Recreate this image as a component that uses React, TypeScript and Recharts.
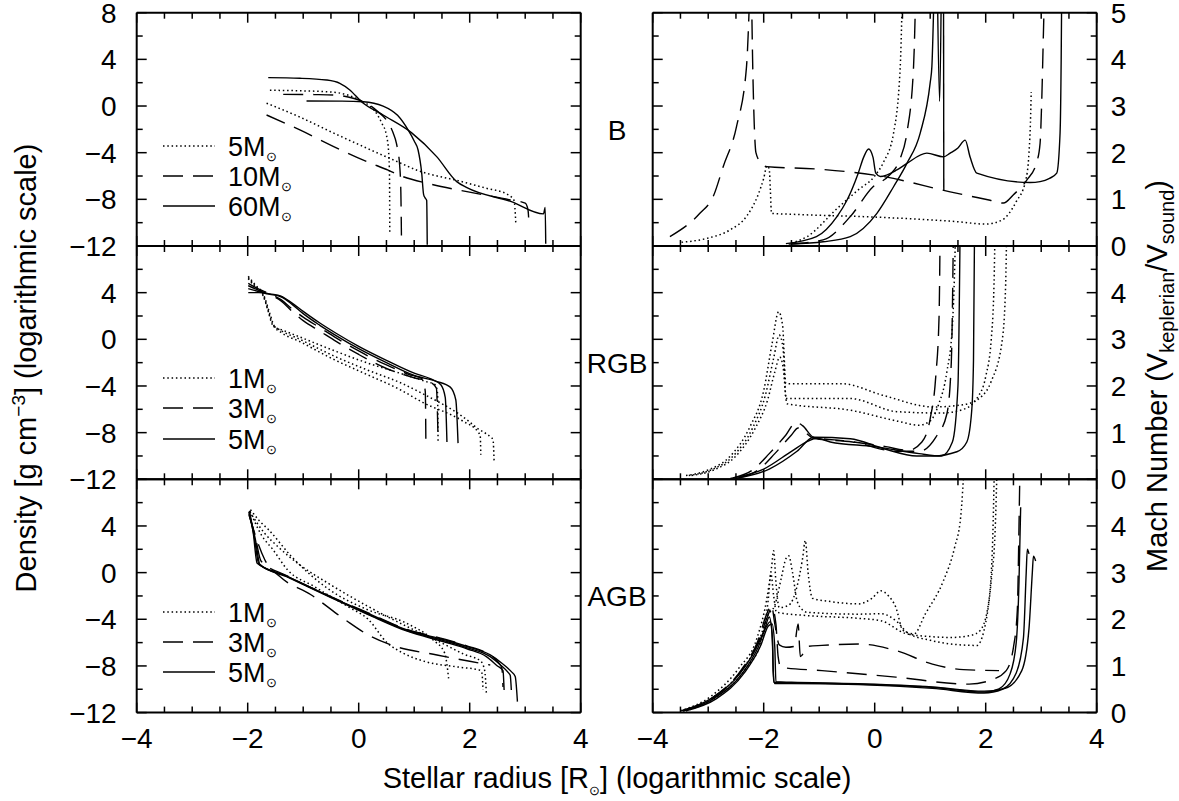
import React from 'react';
import { LineChart, Line, XAxis, YAxis } from 'recharts';

type P = [number, number][];

// ---------------- B (main sequence / supergiant) : density ----------------
const bDenDot5MS: P = [[-1.6,1.35],[-1.0,1.3],[-0.5,1.2],[-0.2,0.95],[0.02,0.5],[0.2,0.0],[0.32,-0.62],[0.42,-1.5],[0.5,-2.5],[0.54,-4.0],[0.555,-6.0],[0.56,-10.8]];
const bDenDash10MS: P = [[-1.36,1.0],[-0.8,0.98],[-0.46,0.95],[-0.1,0.67],[0.14,0.24],[0.35,-0.5],[0.5,-1.2],[0.62,-2.3],[0.68,-3.2],[0.74,-5.2],[0.76,-7.5],[0.77,-11.1]];
const bDenSol60MS: P = [[-0.94,0.43],[-0.3,0.42],[0.08,0.37],[0.44,0.0],[0.7,-0.8],[0.89,-2.05],[1.0,-3.0],[1.07,-3.77],[1.135,-5.74],[1.17,-7.6],[1.2,-7.9],[1.225,-8.1],[1.235,-11.9]];
const bDenSol60SG: P = [[-1.63,2.43],[-1.06,2.38],[-0.58,2.23],[-0.34,1.95],[-0.16,1.38],[0.05,0.37],[0.44,-0.77],[0.955,-2.3],[1.405,-4.34],[1.766,-6.48],[1.95,-7.0],[2.75,-8.2],[3.33,-9.25],[3.36,-8.7],[3.37,-11.8]];
const bDenDot5SG: P = [[-1.66,0.24],[-1.06,-0.95],[-0.46,-2.3],[0.14,-3.6],[0.71,-4.8],[1.05,-5.5],[1.83,-6.45],[2.3,-7.05],[2.67,-7.55],[2.8,-8.1],[2.83,-10.0]];
const bDenDash10SG: P = [[-1.66,-0.77],[-1.06,-2.05],[-0.46,-3.45],[0.14,-4.75],[0.53,-5.5],[0.74,-5.95],[1.3,-6.7],[1.95,-7.34],[2.73,-8.05],[3.0,-8.33],[3.05,-8.9],[3.07,-10.3]];

// ---------------- B : Mach number ----------------
const bMachDashSGa: P = [[-3.69,0.2],[-3.15,0.7],[-2.91,1.06],[-2.73,1.7],[-2.49,2.56],[-2.31,3.84],[-2.25,5.5]];
const bMachDashSGb: P = [[-2.22,5.5],[-2.2,4.0],[-2.17,2.6],[-2.14,2.0],[-2.05,1.78],[-1.95,1.7],[-1.05,1.65],[0.15,1.49],[1.36,1.16],[2.08,0.98],[2.32,0.92],[2.5,1.1],[2.74,1.41],[2.92,1.8],[2.98,2.2],[3.01,3.13],[3.04,4.56],[3.06,5.5]];
const bMachDotSG: P = [[-3.48,0.08],[-3.0,0.17],[-2.6,0.35],[-2.3,0.65],[-2.1,1.1],[-2.0,1.45],[-1.94,1.72],[-1.9,1.65],[-1.88,1.2],[-1.86,0.7],[-1.5,0.68],[0.0,0.62],[1.5,0.52],[2.0,0.47],[2.3,0.56],[2.55,0.95],[2.72,1.4],[2.78,2.0],[2.81,2.8],[2.82,3.3]];
const bMachDotMS: P = [[-1.5,0.06],[-1.22,0.2],[-0.68,0.8],[-0.3,1.2],[0.0,1.5],[0.16,1.8],[0.34,2.42],[0.46,3.84],[0.5,5.5]];
const bMachDashMS: P = [[-1.55,0.04],[-0.93,0.13],[-0.44,0.63],[-0.03,1.27],[0.25,1.5],[0.45,1.85],[0.58,2.42],[0.7,3.84],[0.74,5.5]];
const bMachSolMS: P = [[-1.5,0.04],[-0.93,0.09],[-0.44,0.2],[0.04,0.7],[0.34,1.27],[0.58,1.77],[0.82,2.42],[1.0,3.5],[1.03,3.84],[1.07,5.5]];
const bMachSolSpike: P = [[1.13,5.5],[1.17,3.1],[1.2,5.5]];
const bMachSolVert: P = [[1.24,5.5],[1.245,1.2]];
const bMachSolSG: P = [[-1.6,0.05],[-1.05,0.2],[-0.68,0.63],[-0.5,0.98],[-0.3,1.55],[-0.2,1.9],[-0.11,2.08],[-0.03,1.9],[0.02,1.56],[0.1,1.49],[0.4,1.63],[0.58,1.77],[0.94,1.99],[1.24,1.91],[1.36,1.99],[1.5,2.1],[1.63,2.27],[1.72,1.9],[1.84,1.56],[2.8,1.36],[2.98,1.38],[3.15,1.45],[3.28,1.56],[3.34,2.42],[3.36,4.0],[3.37,5.5]];

// ---------------- RGB : density ----------------
const rDenDot1: P = [[-1.99,5.4],[-1.85,4.6],[-1.72,3.9],[-1.6,2.2],[-1.51,1.06],[-1.36,0.77],[-1.06,0.2],[-0.46,-0.94],[0.14,-2.0],[0.74,-2.9],[1.2,-3.6],[1.38,-3.9],[1.42,-4.6],[1.43,-8.7]];
const rDenDot2: P = [[-1.99,5.3],[-1.85,4.5],[-1.72,3.8],[-1.62,2.3],[-1.54,1.2],[-1.4,0.6],[-1.06,-0.2],[-0.46,-1.7],[0.14,-3.0],[0.74,-4.3],[1.15,-5.4],[1.87,-7.0],[2.16,-8.0],[2.19,-8.3],[2.2,-9.9]];
const rDenDot3: P = [[-1.99,5.2],[-1.85,4.4],[-1.72,3.7],[-1.63,2.4],[-1.56,1.3],[-1.45,0.9],[-1.06,0.0],[-0.46,-1.4],[0.14,-2.6],[0.74,-3.7],[1.15,-4.65],[1.95,-6.9],[2.13,-7.6],[2.38,-8.4],[2.42,-8.6],[2.44,-10.5]];
const rDenSol1: P = [[-1.99,4.35],[-1.8,4.1],[-1.6,3.9],[-1.4,3.7],[-1.2,3.1],[-1.0,2.4],[-0.7,1.4],[-0.4,0.5],[0.0,-0.6],[0.5,-1.8],[1.0,-2.9],[1.3,-3.4],[1.48,-3.9],[1.56,-5.0],[1.59,-8.8]];
const rDenSol2: P = [[-1.99,4.0],[-1.8,4.0],[-1.6,3.85],[-1.4,3.65],[-1.2,3.0],[-1.0,2.2],[-0.7,1.2],[-0.4,0.3],[0.0,-0.8],[0.5,-2.0],[1.0,-3.1],[1.4,-3.6],[1.65,-4.1],[1.75,-5.2],[1.79,-8.9]];
const rDenDash1: P = [[-1.99,4.8],[-1.8,4.3],[-1.6,3.9],[-1.4,3.4],[-1.2,2.6],[-1.0,1.9],[-0.7,1.0],[-0.4,0.1],[0.0,-1.0],[0.5,-2.2],[0.9,-3.0],[1.15,-3.4],[1.2,-4.5],[1.21,-8.65]];
const rDenDash2: P = [[-1.99,4.6],[-1.8,4.2],[-1.6,3.8],[-1.4,3.3],[-1.2,2.4],[-1.0,1.6],[-0.7,0.7],[-0.4,-0.2],[0.0,-1.3],[0.5,-2.5],[1.0,-3.3],[1.3,-3.7],[1.4,-4.2],[1.43,-8.65]];

// ---------------- RGB : Mach number ----------------
const rMachDot1: P = [[-3.4,0.08],[-3.0,0.2],[-2.6,0.5],[-2.25,1.12],[-2.0,1.9],[-1.85,2.9],[-1.73,3.59],[-1.66,3.3],[-1.6,2.05],[-1.0,2.05],[-0.6,2.05],[0.15,1.8],[1.06,1.55],[1.6,1.6],[1.9,1.75],[2.1,2.1],[2.3,3.0],[2.36,4.2],[2.38,5.5]];
const rMachDot2: P = [[-3.35,0.08],[-2.95,0.2],[-2.55,0.5],[-2.2,1.1],[-1.97,1.8],[-1.82,2.6],[-1.72,3.09],[-1.65,2.8],[-1.6,1.73],[-0.44,1.73],[0.4,1.45],[1.2,1.42],[1.6,1.5],[1.85,1.75],[2.0,2.2],[2.1,3.0],[2.15,4.2],[2.17,5.5]];
const rMachDot3: P = [[-3.3,0.08],[-2.9,0.2],[-2.5,0.5],[-2.15,1.1],[-1.93,1.7],[-1.8,2.3],[-1.71,2.62],[-1.65,2.4],[-1.58,1.62],[-0.44,1.48],[0.4,1.25],[0.8,1.16],[1.0,1.25],[1.15,1.6],[1.3,2.3],[1.4,3.3],[1.44,4.5],[1.46,5.5]];
const rMachDash1: P = [[-2.55,0.03],[-2.2,0.2],[-1.9,0.55],[-1.6,0.95],[-1.42,1.22],[-1.3,1.15],[-1.1,0.9],[-0.5,0.82],[0.2,0.7],[0.6,0.62],[0.85,0.8],[1.0,1.3],[1.1,2.2],[1.16,3.5],[1.18,5.5]];
const rMachDash2: P = [[-2.45,0.03],[-2.1,0.2],[-1.8,0.55],[-1.5,0.95],[-1.38,1.1],[-1.1,0.88],[-0.4,0.8],[0.4,0.6],[0.8,0.6],[1.1,0.9],[1.3,1.4],[1.38,2.5],[1.42,5.5]];
const rMachSol1: P = [[-2.6,0.02],[-2.0,0.22],[-1.5,0.6],[-1.2,0.82],[-1.05,0.88],[-0.8,0.8],[0.0,0.7],[0.8,0.55],[1.2,0.5],[1.4,0.8],[1.5,2.0],[1.54,5.5]];
const rMachSol2: P = [[-2.5,0.02],[-1.9,0.22],[-1.4,0.6],[-1.1,0.9],[-0.44,0.87],[0.15,0.66],[0.76,0.5],[1.06,0.5],[1.48,0.59],[1.66,0.8],[1.75,1.5],[1.78,2.55],[1.8,5.5]];

// ---------------- AGB : density ----------------
const aDenSol1: P = [[-1.97,5.3],[-1.9,3.4],[-1.83,0.8],[-1.35,-0.2],[-0.52,-2.06],[0.17,-3.49],[0.86,-4.9],[1.55,-5.77],[1.96,-6.34],[2.37,-7.06],[2.58,-7.77],[2.75,-8.49],[2.82,-8.9],[2.86,-11.06]];
const aDenSol2: P = [[-1.98,5.2],[-1.88,3.0],[-1.8,0.75],[-1.3,-0.3],[-0.5,-2.1],[0.17,-3.55],[0.86,-4.95],[1.55,-5.85],[1.96,-6.45],[2.37,-7.2],[2.55,-7.9],[2.7,-8.6],[2.73,-8.8],[2.75,-10.06]];
const aDenSol3: P = [[-1.97,5.1],[-1.86,2.8],[-1.78,0.7],[-1.3,-0.35],[-0.5,-2.15],[0.17,-3.6],[0.86,-5.0],[1.55,-5.95],[1.96,-6.55],[2.3,-7.2],[2.5,-8.0],[2.6,-8.4],[2.62,-10.06]];
const aDenDash1: P = [[-1.97,4.9],[-1.85,3.0],[-1.69,1.08],[-1.42,-0.34],[-0.86,-1.9],[-0.24,-4.06],[0.17,-5.34],[0.58,-6.2],[1.41,-7.06],[2.0,-7.6],[2.37,-7.92]];
const aDenDash2: P = [[-1.98,5.0],[-1.86,3.0],[-1.76,1.0],[-1.3,-0.25],[-0.5,-2.05],[0.17,-3.45],[0.86,-4.85],[1.55,-5.7],[1.96,-6.3],[2.3,-6.9],[2.5,-7.6],[2.58,-8.2],[2.6,-9.8]];
const aDenDot1: P = [[-1.95,5.4],[-1.8,4.5],[-1.62,3.66],[-1.21,1.37],[-0.52,-1.49],[0.17,-3.2],[0.86,-4.34],[1.34,-5.77],[1.55,-6.9],[1.62,-9.06]];
const aDenDot2: P = [[-1.96,5.3],[-1.75,3.2],[-1.55,2.0],[-1.28,0.23],[-0.8,-1.2],[-0.2,-2.9],[0.17,-4.0],[0.51,-6.0],[0.8,-6.9],[1.2,-7.63],[1.8,-8.1],[2.17,-8.34],[2.22,-8.6],[2.24,-10.06]];
const aDenDot3: P = [[-1.96,5.2],[-1.7,3.4],[-1.45,2.2],[-1.1,0.8],[-0.52,-1.0],[0.17,-2.9],[0.86,-4.6],[1.4,-5.8],[1.9,-7.0],[2.2,-7.6],[2.27,-8.4],[2.3,-10.3]];

// ---------------- AGB : Mach number ----------------
const aMachDotA: P = [[-3.5,0.04],[-2.95,0.35],[-2.45,0.95],[-2.12,1.6],[-1.95,2.4],[-1.86,3.1],[-1.82,3.47],[-1.78,2.8],[-1.72,2.25],[-1.55,2.3],[-1.4,2.7],[-1.3,3.3],[-1.25,3.69],[-1.2,3.0],[-1.12,2.45],[-0.8,2.38],[-0.29,2.33],[-0.05,2.45],[0.11,2.61],[0.25,2.5],[0.38,2.26],[0.51,1.76],[0.71,1.69],[0.91,2.11],[1.24,2.83],[1.44,3.54],[1.55,4.2],[1.62,5.5]];
const aMachDotB: P = [[-3.45,0.04],[-2.9,0.33],[-2.4,0.9],[-2.08,1.55],[-1.92,2.1],[-1.8,2.3],[-1.68,2.9],[-1.6,3.3],[-1.55,3.36],[-1.48,3.0],[-1.4,2.4],[-1.3,2.2],[-1.22,2.15],[-0.29,2.11],[0.11,2.12],[0.4,1.95],[0.6,1.7],[1.0,1.55],[1.37,1.47],[1.84,1.44],[1.97,1.76],[2.1,2.83],[2.17,3.9],[2.21,5.5]];
const aMachDotC: P = [[-3.4,0.04],[-2.85,0.33],[-2.35,0.9],[-2.02,1.6],[-1.92,2.4],[-1.87,2.97],[-1.82,2.5],[-1.77,2.15],[-1.22,2.08],[-0.29,2.02],[0.11,1.97],[0.57,1.69],[1.0,1.63],[1.37,1.61],[1.75,1.66],[1.9,1.76],[2.04,2.26],[2.12,3.5],[2.16,5.5]];
const aMachSolA: P = [[-3.48,0.04],[-2.95,0.3],[-2.42,0.85],[-2.15,1.35],[-1.98,1.8],[-1.9,2.05],[-1.85,1.7],[-1.83,1.0],[-1.82,0.65],[-1.5,0.64],[-0.29,0.61],[1.04,0.54],[1.97,0.44],[2.24,0.51],[2.44,0.83],[2.55,1.5],[2.6,2.8],[2.63,4.4]];
const aMachSolB: P = [[-3.45,0.04],[-2.9,0.3],[-2.38,0.85],[-2.1,1.4],[-1.95,1.85],[-1.88,1.95],[-1.84,1.5],[-1.83,0.9],[-1.8,0.62],[-1.5,0.62],[-0.29,0.6],[1.04,0.52],[1.97,0.42],[2.3,0.5],[2.55,0.85],[2.68,1.6],[2.73,3.0],[2.75,3.5],[2.78,3.4]];
const aMachSolC: P = [[-3.4,0.04],[-2.85,0.3],[-2.35,0.85],[-2.05,1.45],[-1.92,1.85],[-1.85,1.9],[-1.8,1.4],[-1.78,0.66],[-1.5,0.65],[-0.29,0.62],[1.04,0.55],[1.97,0.46],[2.35,0.52],[2.65,0.9],[2.78,1.8],[2.84,3.0],[2.86,3.35],[2.9,3.25]];
const aMachDashA: P = [[-3.45,0.04],[-2.9,0.32],[-2.4,0.9],[-2.1,1.5],[-1.95,2.0],[-1.85,2.25],[-1.78,1.9],[-1.74,1.2],[-1.69,0.97],[-0.95,0.9],[0.38,0.76],[1.7,0.61],[2.1,0.7],[2.37,0.9],[2.5,1.4],[2.57,2.2],[2.6,4.0],[2.62,5.5]];
const aMachDashB: P = [[-3.45,0.04],[-2.9,0.34],[-2.4,0.92],[-2.1,1.55],[-1.95,2.1],[-1.86,2.3],[-1.8,1.9],[-1.72,1.45],[-1.6,1.4],[-1.45,1.42],[-1.38,1.9],[-1.34,1.2],[-1.2,1.42],[-0.95,1.44],[-0.29,1.47],[0.38,1.33],[1.04,1.04],[1.6,0.92],[2.24,0.9]];

// ---------------- axes / labels ----------------
const X_TICKS = [-4, -3.5, -3, -2.5, -2, -1.5, -1, -0.5, 0, 0.5, 1, 1.5, 2, 2.5, 3, 3.5, 4];
const X_LABELS = [-4, -2, 0, 2, 4];
const DEN_TICKS = [-12, -10, -8, -6, -4, -2, 0, 2, 4, 6, 8];
const DEN_LABELS_TOP = [8, 4, 0, -4, -8, -12];
const DEN_LABELS = [4, 0, -4, -8, -12];
const MACH_TICKS = [0, 0.5, 1, 1.5, 2, 2.5, 3, 3.5, 4, 4.5, 5];
const MACH_LABELS_TOP = [5, 4, 3, 2, 1, 0];
const MACH_LABELS = [4, 3, 2, 1, 0];
const PANEL_NAMES = ['B', 'RGB', 'AGB'];
const LEGEND_B = ['5', '10', '60'];
const LEGEND_GIANT = ['1', '3', '5'];

// ---------------- geometry ----------------
const W = 1179;
const H = 801;
const PW = 444;
const PH = 233.3;
const LX = 136.7;
const RX = 652.7;
const ROWS = [12.7, 246.0, 479.3];
const FONT = '"Liberation Sans", Arial, Helvetica, sans-serif';
const DOT = '1.5 2.8';
const DASH = '20 10';

type Sty = 'dot' | 'dash' | 'solid';
interface Series { d: P; s: Sty }

const fmt = (v: number) => (v < 0 ? '\u2212' + Math.abs(v) : String(v));
const toObj = (a: P) => a.map(([x, y]) => ({ x, y }));
const dashOf = (s: Sty) => (s === 'dot' ? DOT : s === 'dash' ? DASH : undefined);

const xTick = (axisY: number, dir: number, labels: boolean) => (props: any) => {
  const v = Number(props.payload.value);
  const x = props.x;
  const major = Math.abs(v / 2 - Math.round(v / 2)) < 1e-6;
  const len = major ? 10 : 6;
  return (
    <g>
      <line x1={x} x2={x} y1={axisY} y2={axisY + dir * len} stroke="#000" strokeWidth={1.5} />
      {labels && X_LABELS.includes(v) ? (
        <text x={x} y={axisY + 35} textAnchor="middle" fontSize={28} fontFamily={FONT} fill="#000">
          {fmt(v)}
        </text>
      ) : null}
    </g>
  );
};

const yTick = (axisX: number, dir: number, labels: number[], side: 'l' | 'r', majorStep: number) => (props: any) => {
  const v = Number(props.payload.value);
  const y = props.y;
  const major = Math.abs(v / majorStep - Math.round(v / majorStep)) < 1e-6;
  const len = major ? 10 : 6;
  return (
    <g>
      <line x1={axisX} x2={axisX + dir * len} y1={y} y2={y} stroke="#000" strokeWidth={1.5} />
      {labels.includes(v) ? (
        <text
          x={side === 'l' ? axisX - 20 : axisX + 14}
          y={y + 10}
          textAnchor={side === 'l' ? 'end' : 'start'}
          fontSize={28}
          fontFamily={FONT}
          fill="#000"
        >
          {fmt(v)}
        </text>
      ) : null}
    </g>
  );
};

interface PanelProps {
  x0: number;
  y0: number;
  mach: boolean;
  labels: number[];
  xLabels: boolean;
  series: Series[];
}

function Panel({ x0, y0, mach, labels, xLabels, series }: PanelProps) {
  const yDomain: [number, number] = mach ? [0, 5] : [-12, 8];
  const yTicks = mach ? MACH_TICKS : DEN_TICKS;
  const majorStep = mach ? 1 : 4;
  const axisStyle = { stroke: '#000', strokeWidth: 2 };
  return (
    <div style={{ position: 'absolute', left: 0, top: 0 }}>
      <LineChart
        width={W}
        height={H}
        margin={{ top: y0 - 1, left: x0 - 1, right: W - x0 - PW - 1, bottom: H - y0 - PH - 1 }}
      >
        <XAxis xAxisId="b" orientation="bottom" type="number" dataKey="x" domain={[-4, 4]} ticks={X_TICKS}
          interval={0} height={1} tickSize={0} tickMargin={0} tickLine={false} axisLine={axisStyle}
          allowDataOverflow tick={xTick(y0 + PH, -1, xLabels)} />
        <XAxis xAxisId="t" orientation="top" type="number" dataKey="x" domain={[-4, 4]} ticks={X_TICKS}
          interval={0} height={1} tickSize={0} tickMargin={0} tickLine={false} axisLine={axisStyle}
          allowDataOverflow tick={xTick(y0, 1, false)} />
        <YAxis yAxisId="l" orientation="left" type="number" domain={yDomain} ticks={yTicks}
          interval={0} width={1} tickSize={0} tickMargin={0} tickLine={false} axisLine={axisStyle}
          allowDataOverflow tick={yTick(x0, 1, mach ? [] : labels, 'l', majorStep)} />
        <YAxis yAxisId="r" orientation="right" type="number" domain={yDomain} ticks={yTicks}
          interval={0} width={1} tickSize={0} tickMargin={0} tickLine={false} axisLine={axisStyle}
          allowDataOverflow tick={yTick(x0 + PW, -1, mach ? labels : [], 'r', majorStep)} />
        {series.map((s, i) => (
          <Line
            key={i}
            xAxisId="b"
            yAxisId="l"
            data={toObj(s.d)}
            dataKey="y"
            type="monotone"
            stroke="#000"
            strokeWidth={s.s === 'dot' ? 1.5 : 1.4}
            strokeDasharray={dashOf(s.s)}
            dot={false}
            activeDot={false}
            isAnimationActive={false}
          />
        ))}
      </LineChart>
    </div>
  );
}

const S = (d: P, s: Sty): Series => ({ d, s });

const bDen: Series[] = [
  S(bDenDot5MS, 'dot'), S(bDenDash10MS, 'dash'), S(bDenSol60MS, 'solid'),
  S(bDenSol60SG, 'solid'), S(bDenDot5SG, 'dot'), S(bDenDash10SG, 'dash'),
];
const bMach: Series[] = [
  S(bMachDashSGa, 'dash'), S(bMachDashSGb, 'dash'), S(bMachDotSG, 'dot'), S(bMachDotMS, 'dot'),
  S(bMachDashMS, 'dash'), S(bMachSolMS, 'solid'), S(bMachSolSpike, 'solid'), S(bMachSolVert, 'solid'),
  S(bMachSolSG, 'solid'),
];
const rDen: Series[] = [
  S(rDenDot1, 'dot'), S(rDenDot2, 'dot'), S(rDenDot3, 'dot'),
  S(rDenSol1, 'solid'), S(rDenSol2, 'solid'), S(rDenDash1, 'dash'), S(rDenDash2, 'dash'),
];
const rMach: Series[] = [
  S(rMachDot1, 'dot'), S(rMachDot2, 'dot'), S(rMachDot3, 'dot'),
  S(rMachDash1, 'dash'), S(rMachDash2, 'dash'), S(rMachSol1, 'solid'), S(rMachSol2, 'solid'),
];
const aDen: Series[] = [
  S(aDenSol1, 'solid'), S(aDenSol2, 'solid'), S(aDenSol3, 'solid'),
  S(aDenDash1, 'dash'), S(aDenDash2, 'dash'),
  S(aDenDot1, 'dot'), S(aDenDot2, 'dot'), S(aDenDot3, 'dot'),
];
const aMach: Series[] = [
  S(aMachDotA, 'dot'), S(aMachDotB, 'dot'), S(aMachDotC, 'dot'),
  S(aMachSolA, 'solid'), S(aMachSolB, 'solid'), S(aMachSolC, 'solid'),
  S(aMachDashA, 'dash'), S(aMachDashB, 'dash'),
];

const LEGEND_ROWS = [
  { names: LEGEND_B, ys: [146, 176, 206] },
  { names: LEGEND_GIANT, ys: [378, 408, 439] },
  { names: LEGEND_GIANT, ys: [612, 642, 672] },
];
const STY_ORDER: Sty[] = ['dot', 'dash', 'solid'];

function Overlay() {
  return (
    <svg width={W} height={H} style={{ position: 'absolute', left: 0, top: 0, pointerEvents: 'none' }}
      fontFamily={FONT} fill="#000">
      {PANEL_NAMES.map((n, i) => (
        <text key={n} x={617} y={ROWS[i] + 127} textAnchor="middle" fontSize={28}>{n}</text>
      ))}
      {LEGEND_ROWS.map((g, gi) =>
        g.names.map((n, i) => (
          <g key={gi + '-' + i}>
            <line x1={163} x2={215} y1={g.ys[i]} y2={g.ys[i]} stroke="#000"
              strokeWidth={STY_ORDER[i] === 'dot' ? 1.5 : 1.4} strokeDasharray={dashOf(STY_ORDER[i])} />
            <text x={228} y={g.ys[i] + 10} fontSize={27}>
              {n}M<tspan fontSize={13} dy={5}>{'\u2299'}</tspan>
            </text>
          </g>
        ))
      )}
      <text x={617} y={788} textAnchor="middle" fontSize={29}>
        Stellar radius [R<tspan fontSize={13} dy={7}>{'\u2299'}</tspan><tspan dy={-7}>] (logarithmic scale)</tspan>
      </text>
      <text x={36} y={368} transform="rotate(-90 36 368)" textAnchor="middle" fontSize={29}>
        Density [g cm<tspan fontSize={19} dy={-11}>{'\u22123'}</tspan><tspan dy={11}>] (logarithmic scale)</tspan>
      </text>
      <text x={1167} y={376} transform="rotate(-90 1167 376)" textAnchor="middle" fontSize={29}>
        Mach Number (V<tspan fontSize={20} dy={7}>keplerian</tspan><tspan dy={-7}>/V</tspan><tspan fontSize={20} dy={7}>sound</tspan><tspan dy={-7}>)</tspan>
      </text>
    </svg>
  );
}

export default function App() {
  return (
    <div style={{ position: 'absolute', left: 0, top: 0, width: W, height: H, background: '#fff' }}>
      <Panel x0={LX} y0={ROWS[0]} mach={false} labels={DEN_LABELS_TOP} xLabels={false} series={bDen} />
      <Panel x0={LX} y0={ROWS[1]} mach={false} labels={DEN_LABELS} xLabels={false} series={rDen} />
      <Panel x0={LX} y0={ROWS[2]} mach={false} labels={DEN_LABELS} xLabels={true} series={aDen} />
      <Panel x0={RX} y0={ROWS[0]} mach={true} labels={MACH_LABELS_TOP} xLabels={false} series={bMach} />
      <Panel x0={RX} y0={ROWS[1]} mach={true} labels={MACH_LABELS} xLabels={false} series={rMach} />
      <Panel x0={RX} y0={ROWS[2]} mach={true} labels={MACH_LABELS} xLabels={true} series={aMach} />
      <Overlay />
    </div>
  );
}
